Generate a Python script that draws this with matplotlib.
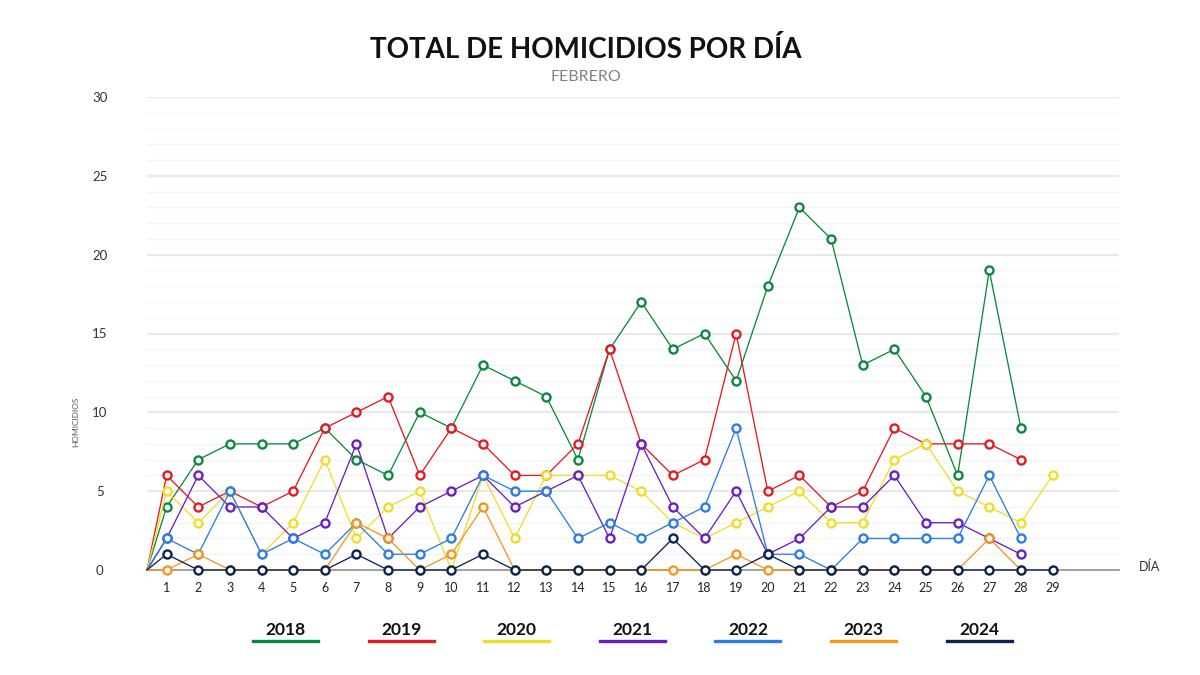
import matplotlib
matplotlib.use("Agg")
import matplotlib.pyplot as plt
from matplotlib.lines import Line2D

# ---------------- data ----------------
years = ["2018", "2019", "2020", "2021", "2022", "2023", "2024"]
colors = ["#0a8a3e", "#e31b23", "#f2dc2a", "#6a1fc6", "#2a7de6", "#f5961f", "#0c2453"]

h2018 = [4, 7, 8, 8, 8, 9, 7, 6, 10, 9, 13, 12, 11, 7, 14, 17, 14, 15, 12, 18, 23, 21, 13, 14, 11, 6, 19, 9]
h2019 = [6, 4, 5, 4, 5, 9, 10, 11, 6, 9, 8, 6, 6, 8, 14, 8, 6, 7, 15, 5, 6, 4, 5, 9, 8, 8, 8, 7]
h2020 = [5, 3, 5, 1, 3, 7, 2, 4, 5, 0, 6, 2, 6, 6, 6, 5, 3, 2, 3, 4, 5, 3, 3, 7, 8, 5, 4, 3, 6]
h2021 = [2, 6, 4, 4, 2, 3, 8, 2, 4, 5, 6, 4, 5, 6, 2, 8, 4, 2, 5, 1, 2, 4, 4, 6, 3, 3, 2, 1]
h2022 = [2, 1, 5, 1, 2, 1, 3, 1, 1, 2, 6, 5, 5, 2, 3, 2, 3, 4, 9, 1, 1, 0, 2, 2, 2, 2, 6, 2]
h2023 = [0, 1, 0, 0, 0, 0, 3, 2, 0, 1, 4, 0, 0, 0, 0, 0, 0, 0, 1, 0, 0, 0, 0, 0, 0, 0, 2, 0]
h2024 = [1, 0, 0, 0, 0, 0, 1, 0, 0, 0, 1, 0, 0, 0, 0, 0, 2, 0, 0, 1, 0, 0, 0, 0, 0, 0, 0, 0, 0]
series = [h2018, h2019, h2020, h2021, h2022, h2023, h2024]

title = "TOTAL DE HOMICIDIOS POR DÍA"
subtitle = "FEBRERO"
ylabel = "HOMICIDIOS"
xlabel = "DÍA"
yticks = [0, 5, 10, 15, 20, 25, 30]

# ---------------- style ----------------
START_X = 0.38          # where every line begins (value 0)
XMAX = 31.1
FONT = ["Lato", "DejaVu Sans"]
plt.rcParams["font.family"] = FONT

fig = plt.figure(figsize=(12, 6.75), dpi=100)
fig.patch.set_facecolor("white")
ax = fig.add_axes([147 / 1200, 1 - 570 / 675, (1119 - 147) / 1200, (570 - 97) / 675])
ax.set_xlim(START_X, XMAX)
ax.set_ylim(0, 30)

# grid
for v in range(1, 31):
    if v % 5 == 0:
        ax.axhline(v, color="#e9e9e9", lw=1.6, zorder=0)
    else:
        ax.axhline(v, color="#f4f4f4", lw=1.0, zorder=0)

for spine in ["top", "right", "left"]:
    ax.spines[spine].set_visible(False)
ax.spines["bottom"].set_color("#9a9a9a")
ax.spines["bottom"].set_linewidth(1.3)
ax.spines["bottom"].set_zorder(1)

# series
for i, (vals, col) in enumerate(zip(series, colors)):
    days = list(range(1, len(vals) + 1))
    ax.plot([START_X] + days, [0] + vals, color=col, lw=0.95, zorder=3 + i * 2,
            solid_joinstyle="round", clip_on=False)
    ax.plot(days, vals, linestyle="none", marker="o", ms=5.8, mew=1.7,
            mfc="white", mec=col, zorder=4 + i * 2, clip_on=False)

# ticks
ax.set_xticks(range(1, 30))
ax.set_xticklabels([str(d) for d in range(1, 30)])
ax.tick_params(axis="x", length=0, pad=9, labelsize=9, labelcolor="#222222")
ax.set_yticks(yticks)
ax.set_yticklabels([str(v) for v in yticks])
ax.tick_params(axis="y", length=0, pad=34, labelsize=9.5, labelcolor="#333333")
for lab in ax.get_yticklabels():
    lab.set_horizontalalignment("center")

# axis labels
fig.text(76 / 1200, 1 - 422 / 675, ylabel, rotation=90, ha="center", va="center",
         fontsize=6, color="#555555")
fig.text(1150 / 1200, 1 - 567 / 675, xlabel, ha="center", va="center",
         fontsize=9, color="#333333")

# title
fig.text(586 / 1200, 1 - 49 / 675, title, ha="center", va="center",
         fontsize=20, fontweight="bold", color="#111111")
fig.text(586 / 1200, 1 - 77 / 675, subtitle, ha="center", va="center",
         fontsize=11.5, color="#808080")

# legend
x0, dx = 285.5, 115.6
for i, (yr, col) in enumerate(zip(years, colors)):
    cx = x0 + i * dx
    fig.text(cx / 1200, 1 - 630 / 675, yr, ha="center", va="center",
             fontsize=12.5, fontweight="bold", color="#111111")
    fig.add_artist(Line2D([(cx - 32.5) / 1200, (cx + 32.5) / 1200],
                          [1 - 641 / 675, 1 - 641 / 675],
                          color=col, lw=2.4, transform=fig.transFigure))

fig.savefig("out.png", dpi=100, facecolor="white")
